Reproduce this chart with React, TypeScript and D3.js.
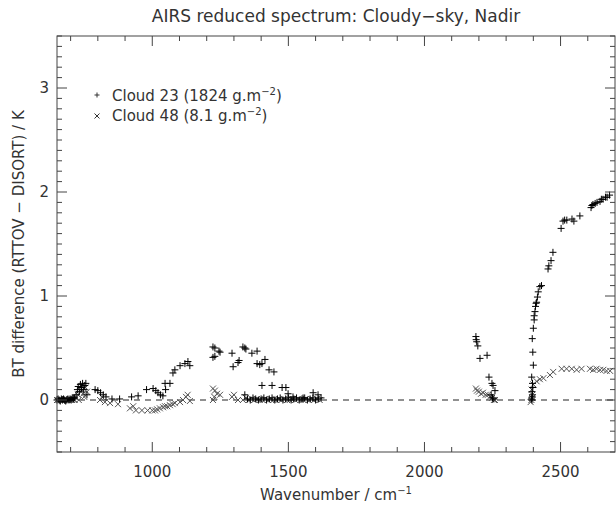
import React from "react";
import * as d3 from "d3";

// ---- data ----
const cloud23Wn = [
  650, 654, 658, 662, 666, 670, 674, 678, 682, 686, 690, 694, 698, 702, 706, 710, 714,
  720, 725, 728, 732, 736, 740, 744, 748, 752, 756, 760,
  790, 800, 810, 820, 830, 852, 880,
  924, 948, 979, 1003, 1013, 1021, 1030, 1039, 1047, 1049,
  1065, 1076, 1083, 1102, 1120, 1131, 1138,
  1223, 1230, 1249, 1245, 1223, 1230, 1293, 1297, 1315, 1319, 1333, 1340, 1344, 1366,
  1385, 1385, 1395, 1403, 1414, 1429, 1447, 1403, 1440, 1477, 1491, 1499, 1517, 1554,
  1591, 1609, 1340,
  1350, 1360, 1370, 1380, 1390, 1400, 1410, 1420, 1430, 1440, 1450, 1460, 1470, 1480,
  1490, 1500, 1510, 1520, 1530, 1540, 1550, 1560, 1570, 1580, 1590, 1600, 1610, 1620,
  2189, 2192, 2196, 2190, 2204, 2230, 2237, 2248, 2252, 2259, 2245, 2250, 2255,
  2395, 2393, 2396, 2397, 2395, 2398, 2397,
  2394, 2400, 2398, 2396, 2400, 2403, 2403, 2406, 2408, 2410, 2412, 2415, 2418, 2424, 2430,
  2454, 2457, 2465, 2472, 2502, 2509, 2515, 2523, 2542, 2549, 2571,
  2612, 2615, 2619, 2627, 2634, 2645, 2650, 2656, 2665, 2671, 2680,
];
const cloud23Bt = [
  0.0, 0.01, 0.0, -0.01, 0.01, 0.0, 0.01, 0.0, -0.01, 0.0, 0.01, 0.0, 0.01, 0.0, 0.02, 0.01, 0.02,
  0.05, 0.1, 0.13, 0.08, 0.15, 0.12, 0.16, 0.1, 0.14, 0.16, 0.05,
  0.1, 0.09, 0.07, 0.05, 0.03, 0.01, 0.01,
  0.03, 0.04, 0.1, 0.11, 0.09, 0.07, 0.05, 0.04, 0.16, 0.1,
  0.16, 0.26, 0.29, 0.33, 0.35, 0.37, 0.33,
  0.51, 0.5, 0.46, 0.47, 0.41, 0.42, 0.45, 0.32, 0.36, 0.38, 0.51, 0.5, 0.49, 0.45,
  0.47, 0.35, 0.34, 0.35, 0.39, 0.29, 0.27, 0.14, 0.14, 0.12, 0.12, 0.06, 0.03, 0.02,
  0.07, 0.05, 0.05,
  0.01, 0.0, 0.02, 0.01, 0.0, 0.01, 0.02, 0.0, 0.01, 0.02, 0.0, 0.01, 0.02, 0.0,
  0.01, 0.02, 0.0, 0.01, 0.02, 0.0, 0.01, 0.02, 0.0, 0.01, 0.02, 0.0, 0.01, 0.02,
  0.61, 0.56, 0.52, 0.58, 0.4, 0.43, 0.22, 0.16, 0.14, 0.09, 0.05, 0.02, 0.01,
  0.0, 0.01, 0.03, 0.05, 0.08, 0.12, 0.16,
  0.22, 0.335, 0.46, 0.59, 0.69, 0.77, 0.81, 0.85, 0.9, 0.93, 0.94, 0.99, 1.04, 1.09, 1.1,
  1.26, 1.29, 1.34, 1.42, 1.65, 1.72, 1.73, 1.73, 1.74, 1.72, 1.77,
  1.85, 1.87, 1.88, 1.89, 1.9, 1.91, 1.93, 1.93, 1.95, 1.95, 1.97,
];

const cloud48Wn = [
  650, 655, 660, 665, 670, 675, 680, 685, 690, 695, 700, 705, 710, 715,
  720, 727, 730, 738, 742, 746, 750, 755, 760,
  808, 815, 826, 845, 874, 918, 930, 940, 962, 983, 1000, 1010, 1018, 1028, 1040, 1047,
  1055, 1065, 1075, 1083, 1102, 1113, 1124, 1130, 1138,
  1223, 1230, 1238, 1228, 1249, 1223, 1293, 1300, 1315, 1333, 1344,
  1355, 1365, 1375, 1385, 1395, 1405, 1415, 1425, 1435, 1445, 1455, 1465, 1475, 1485,
  1495, 1505, 1515, 1525, 1535, 1545, 1555, 1565, 1575, 1585, 1595, 1605, 1615,
  2189, 2193, 2200, 2208, 2215, 2225, 2233, 2240, 2248, 2255, 2259,
  2390, 2393, 2395, 2396, 2394, 2400, 2412, 2424, 2437, 2461, 2473, 2504, 2522, 2541,
  2559, 2577, 2608, 2620, 2632, 2645, 2657, 2669, 2682,
];
const cloud48Bt = [
  0.0, 0.0, 0.01, 0.0, -0.01, 0.0, 0.01, 0.0, 0.0, 0.01, 0.0, 0.0, 0.01, 0.0,
  0.02, 0.05, 0.0, 0.08, 0.1, 0.06, 0.03, 0.12, 0.08,
  0.0, 0.03, -0.02, -0.03, -0.04, -0.08, -0.06, -0.1, -0.1, -0.1, -0.1, -0.1, -0.09, -0.08, -0.07, -0.06,
  -0.06, -0.05, -0.04, -0.03, -0.02, 0.0, 0.03, 0.05, -0.01,
  0.11, 0.09, 0.06, 0.03, 0.05, 0.0, 0.03, 0.05, 0.0, 0.0, 0.02,
  0.0, 0.01, 0.0, 0.01, 0.0, 0.0, 0.01, 0.0, 0.01, 0.0, 0.0, 0.01, 0.0, 0.01,
  0.0, 0.0, 0.01, 0.0, 0.01, 0.0, 0.0, 0.01, 0.0, 0.01, 0.0, 0.01, 0.0,
  0.11, 0.09, 0.08, 0.06, 0.07, 0.05, 0.05, 0.03, 0.02, 0.0, 0.0,
  -0.02, 0.0, 0.02, 0.05, 0.1, 0.15, 0.18, 0.2, 0.21, 0.24, 0.27, 0.3, 0.3, 0.3,
  0.29, 0.3, 0.3, 0.29, 0.3, 0.29, 0.29, 0.28, 0.28,
];

const xMajorTicks = [1000, 1500, 2000, 2500];
const yMajorTicks = [0, 1, 2, 3];

const W = 616;
const H = 509;
const M = { left: 57, right: 615, top: 36, bottom: 452 };
const FONT = "DejaVu Sans, sans-serif";
const TXT = "#333";

export default function App() {
  const x = d3.scaleLinear().domain([650, 2700]).range([M.left, M.right]);
  const y = d3.scaleLinear().domain([-0.5, 3.5]).range([M.bottom, M.top]);

  const xMinor = d3.range(700, 2700, 100).filter((v) => !xMajorTicks.includes(v));
  const yMinor = d3.range(-5, 36, 1).map((v) => v / 10).filter((v) => !yMajorTicks.includes(v));

  const axisColor = "#444";
  const maj = 10;
  const min = 5;

  const plus = (cx: number, cy: number, s: number, key: string, color: string) => (
    <path key={key} d={`M${cx - s},${cy}H${cx + s}M${cx},${cy - s}V${cy + s}`} stroke={color} strokeWidth={1} fill="none" />
  );
  const cross = (cx: number, cy: number, s: number, key: string, color: string) => (
    <path key={key} d={`M${cx - s},${cy - s}L${cx + s},${cy + s}M${cx - s},${cy + s}L${cx + s},${cy - s}`} stroke={color} strokeWidth={1} fill="none" />
  );

  return (
    <svg width={W} height={H} style={{ position: "absolute", left: 0, top: 0, background: "#fff" }} fontFamily={FONT}>
      <rect x={0} y={0} width={W} height={H} fill="#fff" />
      {/* title */}
      <text x={(M.left + M.right) / 2} y={22} textAnchor="middle" fontSize={17} fill={TXT}>
        AIRS reduced spectrum: Cloudy−sky, Nadir
      </text>

      {/* zero dashed line */}
      <line x1={M.left} x2={M.right} y1={y(0)} y2={y(0)} stroke="#222" strokeDasharray="6 5" strokeWidth={1} />

      {/* cloud 48 crosses */}
      {cloud48Wn.map((w, i) => cross(x(w), y(cloud48Bt[i]), 3, "c48" + i, "#555"))}
      {/* cloud 23 pluses */}
      {cloud23Wn.map((w, i) => plus(x(w), y(cloud23Bt[i]), 3.5, "c23" + i, "#000"))}

      {/* frame */}
      <rect x={M.left} y={M.top} width={M.right - M.left} height={M.bottom - M.top} fill="none" stroke={axisColor} strokeWidth={1} />

      {/* x ticks */}
      {xMinor.map((v) => (
        <g key={"xm" + v}>
          <line x1={x(v)} x2={x(v)} y1={M.bottom} y2={M.bottom - min} stroke={axisColor} />
          <line x1={x(v)} x2={x(v)} y1={M.top} y2={M.top + min} stroke={axisColor} />
        </g>
      ))}
      {xMajorTicks.map((v) => (
        <g key={"xM" + v}>
          <line x1={x(v)} x2={x(v)} y1={M.bottom} y2={M.bottom - maj} stroke={axisColor} />
          <line x1={x(v)} x2={x(v)} y1={M.top} y2={M.top + maj} stroke={axisColor} />
          <text x={x(v)} y={M.bottom + 25} textAnchor="middle" fontSize={15} fill={TXT}>
            {v}
          </text>
        </g>
      ))}

      {/* y ticks */}
      {yMinor.map((v) => (
        <g key={"ym" + v}>
          <line x1={M.left} x2={M.left + min} y1={y(v)} y2={y(v)} stroke={axisColor} />
          <line x1={M.right} x2={M.right - min} y1={y(v)} y2={y(v)} stroke={axisColor} />
        </g>
      ))}
      {yMajorTicks.map((v) => (
        <g key={"yM" + v}>
          <line x1={M.left} x2={M.left + maj} y1={y(v)} y2={y(v)} stroke={axisColor} />
          <line x1={M.right} x2={M.right - maj} y1={y(v)} y2={y(v)} stroke={axisColor} />
          <text x={M.left - 8} y={y(v) + 5} textAnchor="end" fontSize={15} fill={TXT}>
            {v}
          </text>
        </g>
      ))}

      {/* axis titles */}
      <text x={(M.left + M.right) / 2} y={500} textAnchor="middle" fontSize={15} fill={TXT}>
        Wavenumber / cm
        <tspan dy={-6} fontSize={10}>−1</tspan>
      </text>
      <text transform={`translate(24,${(M.top + M.bottom) / 2}) rotate(-90)`} textAnchor="middle" fontSize={15} fill={TXT}>
        BT difference (RTTOV − DISORT) / K
      </text>

      {/* legend */}
      {plus(97, 95, 2.5, "lg1", "#333")}
      <text x={112} y={101} fontSize={15} fill={TXT}>
        Cloud 23 (1824 g.m<tspan dy={-6} fontSize={10}>−2</tspan>
        <tspan dy={6}>)</tspan>
      </text>
      {cross(97, 116, 2.5, "lg2", "#333")}
      <text x={112} y={121} fontSize={15} fill={TXT}>
        Cloud 48 (8.1 g.m<tspan dy={-6} fontSize={10}>−2</tspan>
        <tspan dy={6}>)</tspan>
      </text>
    </svg>
  );
}
